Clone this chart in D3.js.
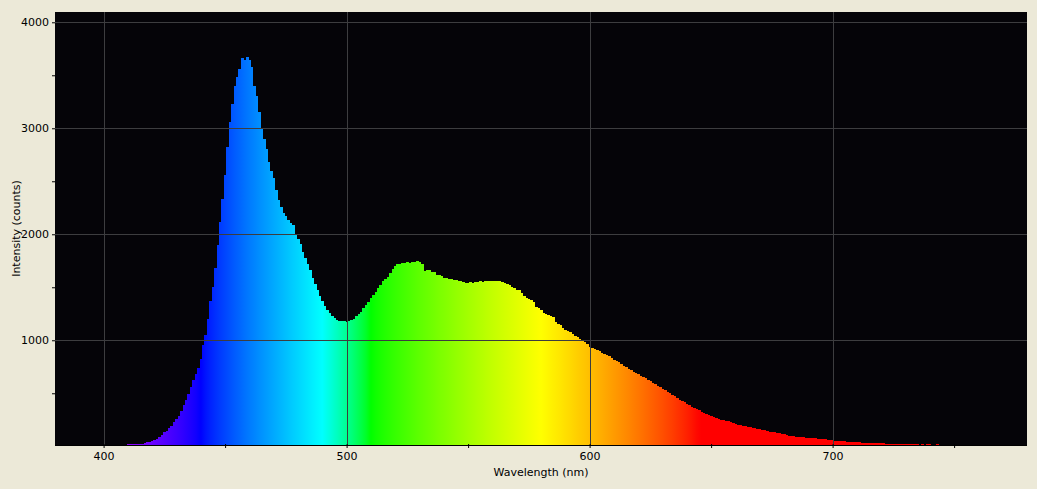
<!DOCTYPE html>
<html>
<head>
<meta charset="utf-8">
<script src="https://cdn.jsdelivr.net/npm/d3@7"></script>
<style>
  html, body { margin: 0; padding: 0; background: #ECE9D8; }
  svg { display: block; }
  text { font-family: "DejaVu Sans", Verdana, sans-serif; font-size: 11px; fill: #000; }
</style>
</head>
<body>
<svg id="chart" width="1037" height="489"></svg>
<script>
// ---- data ----
const startWavelength = 410; // nm, 1 nm per sample
const violetBlue = [ // 410..469
  18,18,18,18,18,20,20,30,38,42,
  48,55,70,88,110,130,148,168,195,225,
  255,285,335,385,440,495,560,625,680,740,
  820,960,1050,1200,1370,1500,1680,1900,2120,2330,
  2560,2820,3060,3230,3400,3480,3560,3660,3640,3670,
  3640,3580,3400,3300,3150,3000,2900,2800,2680,2600
];
const cyanGreen = [ // 470..539
  2530,2420,2320,2260,2200,2170,2130,2110,2090,2000,
  1960,1910,1830,1780,1720,1660,1590,1530,1470,1420,
  1370,1320,1290,1260,1230,1210,1195,1185,1180,1180,
  1170,1180,1190,1205,1225,1245,1270,1300,1330,1365,
  1395,1430,1460,1490,1525,1555,1580,1600,1630,1670,
  1705,1715,1722,1730,1725,1735,1730,1740,1742,1745,
  1738,1720,1650,1665,1665,1645,1640,1620,1612,1605
];
const yellowOrange = [ // 540..619
  1590,1585,1580,1575,1572,1565,1560,1555,1550,1545,
  1540,1548,1543,1550,1550,1555,1552,1558,1560,1556,
  1560,1558,1557,1555,1548,1540,1535,1520,1505,1490,
  1478,1470,1450,1420,1400,1390,1380,1365,1310,1300,
  1290,1260,1245,1238,1225,1215,1170,1158,1140,1120,
  1100,1088,1075,1060,1040,1028,1010,995,980,965,
  935,925,918,912,895,880,870,858,848,832,
  818,805,792,775,760,745,732,718,705,690
];
const redTail = [ // 620..745
  678,665,655,640,625,612,600,588,573,560,
  545,530,515,500,485,470,455,440,428,414,
  400,385,372,360,350,338,328,318,308,298,
  288,278,268,258,250,245,240,235,228,220,
  212,205,200,195,188,182,178,172,168,163,
  160,155,150,143,138,135,130,126,122,118,
  112,106,101,97,94,91,88,86,84,82,
  81,79,77,75,73,72,68,65,62,59,
  56,53,50,49,47,46,42,40,40,40,
  39,38,34,31,31,31,31,31,30,30,
  30,28,22,22,22,22,22,22,22,22,
  22,22,22,22,22,22,12,22,12,22,
  22,10,10,20,10,0
];
const intensities = [...violetBlue, ...cyanGreen, ...yellowOrange, ...redTail];
const spectrum = intensities.map((v, i) => ({ w: startWavelength + i, v }));

const xMajorTicks = [400, 500, 600, 700];
const xMinorTicks = [450, 550, 650, 750];
const yMajorTicks = [1000, 2000, 3000, 4000];
const yMinorTicks = [500, 1500, 2500, 3500];
const xTitle = "Wavelength (nm)";
const yTitle = "Intensity (counts)";

// ---- layout ----
const W = 1037, H = 489;
const plot = { left: 55, top: 12, right: 1027, bottom: 445 };

const svg = d3.select("#chart");
const x = d3.scaleLinear().domain([380, 780]).range([plot.left, plot.right]);
const y = d3.scaleLinear().domain([12, 4097]).range([plot.bottom, plot.top]);

// wavelength -> RGB (spectrometer style)
function waveColor(w) {
  let r = 0, g = 0, b = 0;
  if (w < 440) { r = -(w - 440) / 60; b = 1; }
  else if (w < 490) { g = (w - 440) / 50; b = 1; }
  else if (w < 510) { g = 1; b = -(w - 510) / 20; }
  else if (w < 580) { r = (w - 510) / 70; g = 1; }
  else if (w < 645) { r = 1; g = -(w - 645) / 65; }
  else { r = 1; }
  const gm = c => Math.round(255 * Math.pow(Math.max(0, Math.min(1, c)), 0.8));
  return `rgb(${gm(r)},${gm(g)},${gm(b)})`;
}

const defs = svg.append("defs");
const grad = defs.append("linearGradient")
  .attr("id", "specGrad")
  .attr("gradientUnits", "userSpaceOnUse")
  .attr("x1", x(380)).attr("x2", x(780)).attr("y1", 0).attr("y2", 0);
d3.range(380, 781, 2).forEach(w => {
  grad.append("stop").attr("offset", (w - 380) / 400).attr("stop-color", waveColor(w));
});
defs.append("clipPath").attr("id", "plotClip")
  .append("rect")
  .attr("x", plot.left).attr("y", plot.top)
  .attr("width", plot.right - plot.left).attr("height", plot.bottom - plot.top);

// plot background
svg.append("rect")
  .attr("x", plot.left).attr("y", plot.top)
  .attr("width", plot.right - plot.left).attr("height", plot.bottom - plot.top)
  .attr("fill", "#050408");

// bars
svg.append("g").attr("clip-path", "url(#plotClip)")
  .selectAll("rect").data(spectrum.filter(d => d.v > 12)).join("rect")
  .attr("x", d => x(d.w - 0.5))
  .attr("width", d => x(d.w + 0.5) - x(d.w - 0.5) + 0.4)
  .attr("y", d => y(d.v))
  .attr("height", d => Math.max(0, y(12) - y(d.v)))
  .attr("fill", "url(#specGrad)")
  .attr("shape-rendering", "crispEdges");

// grid (on top of bars)
const grid = svg.append("g").attr("stroke", "#3d3d3f").attr("stroke-width", 1)
  .attr("shape-rendering", "crispEdges");
grid.selectAll("line.v").data(xMajorTicks).join("line")
  .attr("x1", d => Math.round(x(d)) + 0.5).attr("x2", d => Math.round(x(d)) + 0.5)
  .attr("y1", plot.top).attr("y2", plot.bottom);
grid.selectAll("line.h").data(yMajorTicks).join("line")
  .attr("y1", d => Math.round(y(d)) + 0.5).attr("y2", d => Math.round(y(d)) + 0.5)
  .attr("x1", plot.left).attr("x2", plot.right);

// axes
const xAxis = d3.axisBottom(x).tickValues([...xMajorTicks, ...xMinorTicks].sort((a, b) => a - b))
  .tickSize(3).tickPadding(4)
  .tickFormat(d => xMajorTicks.includes(d) ? d : "");
const gx = svg.append("g").attr("transform", `translate(0,${plot.bottom})`).call(xAxis);
gx.select(".domain").attr("stroke", "#000").attr("d", `M${plot.left},0.5H${plot.right}`);
gx.selectAll(".tick line").attr("stroke", "#000").attr("y1", -1);
gx.selectAll(".tick text").style("font-family", "DejaVu Sans").style("font-size", "11px").attr("fill", "#000");

const yAxis = d3.axisLeft(y).tickValues([...yMajorTicks, ...yMinorTicks].sort((a, b) => a - b))
  .tickSize(3).tickPadding(3)
  .tickFormat(d => yMajorTicks.includes(d) ? d : "");
const gy = svg.append("g").attr("transform", `translate(${plot.left},0)`).call(yAxis);
gy.select(".domain").remove();
gy.selectAll(".tick line").attr("stroke", "#000");
gy.selectAll(".tick text").style("font-family", "DejaVu Sans").style("font-size", "11px").attr("fill", "#000");

// titles
svg.append("text")
  .attr("x", (plot.left + plot.right) / 2).attr("y", 476)
  .attr("text-anchor", "middle").text(xTitle);
svg.append("text")
  .attr("transform", `translate(20,${(plot.top + plot.bottom) / 2}) rotate(-90)`)
  .attr("text-anchor", "middle").text(yTitle);
</script>
</body>
</html>
